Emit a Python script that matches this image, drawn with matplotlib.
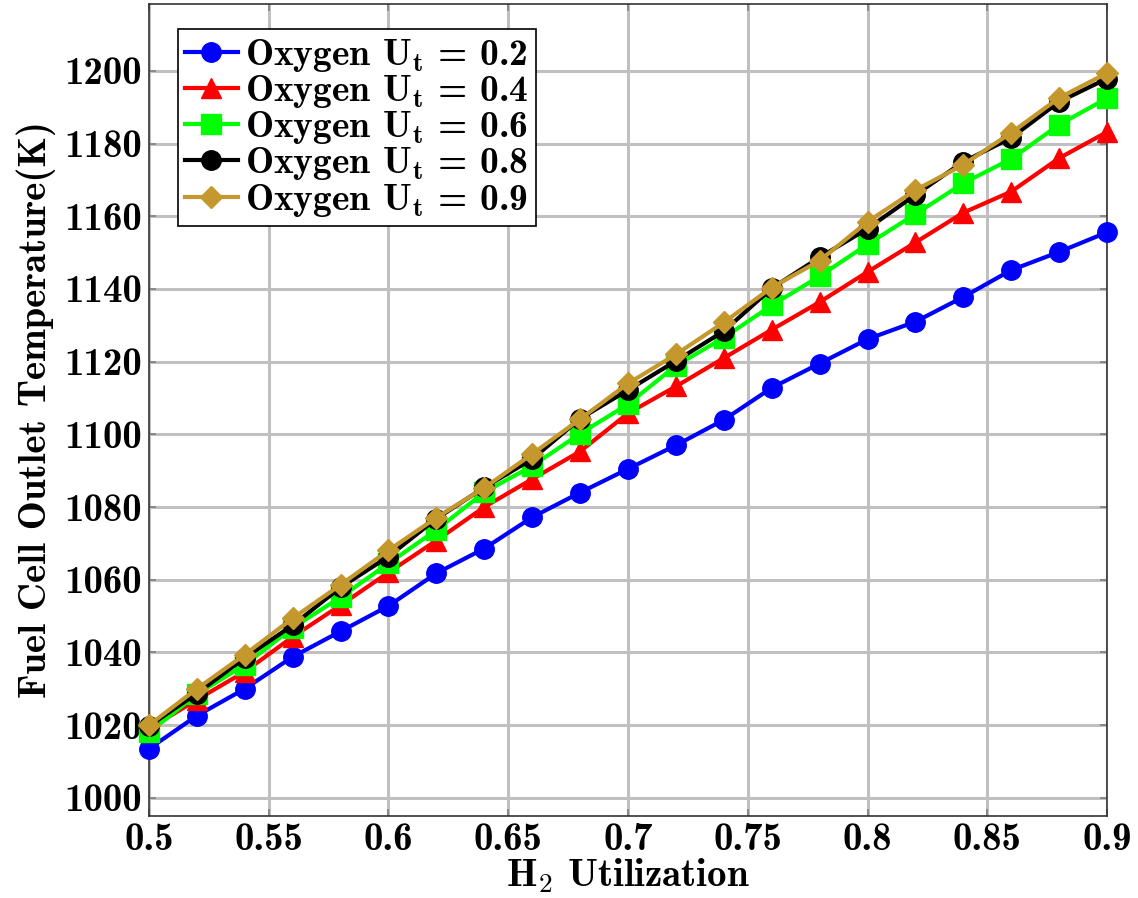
import numpy as np
import matplotlib
matplotlib.use("Agg")
import matplotlib.pyplot as plt

plt.rcParams['font.family'] = 'cmb10'
plt.rcParams['mathtext.fontset'] = 'cm'
plt.rcParams['axes.unicode_minus'] = False

# H2 utilization (x) and fuel cell outlet temperature (K) per oxygen utilization
h2_util = [0.50, 0.52, 0.54, 0.56, 0.58, 0.60, 0.62, 0.64, 0.66, 0.68, 0.70,
           0.72, 0.74, 0.76, 0.78, 0.80, 0.82, 0.84, 0.86, 0.88, 0.90]

temp_ox02 = [1013.5, 1022.6, 1030.0, 1038.8, 1045.8, 1052.8, 1061.8, 1068.6, 1077.2, 1084.0, 1090.5,
             1097.0, 1104.0, 1112.8, 1119.5, 1126.2, 1131.0, 1137.8, 1145.2, 1150.2, 1155.6]
temp_ox04 = [1019.0, 1027.0, 1034.7, 1044.3, 1053.0, 1062.0, 1070.8, 1080.0, 1087.7, 1095.3, 1105.8,
             1113.2, 1121.0, 1128.8, 1136.4, 1144.7, 1152.8, 1161.0, 1166.8, 1176.0, 1183.2]
temp_ox06 = [1018.0, 1028.5, 1036.6, 1046.8, 1055.2, 1064.5, 1073.7, 1084.1, 1091.3, 1100.2, 1108.3,
             1118.9, 1126.6, 1135.5, 1143.5, 1152.3, 1160.6, 1169.1, 1175.8, 1185.2, 1192.5]
temp_ox08 = [1019.8, 1028.7, 1038.5, 1047.5, 1057.9, 1066.4, 1076.8, 1085.4, 1093.2, 1104.3, 1112.2,
             1120.2, 1128.4, 1140.2, 1148.7, 1156.6, 1165.9, 1175.0, 1181.6, 1191.5, 1197.9]
temp_ox09 = [1020.0, 1030.0, 1039.4, 1049.4, 1058.6, 1068.1, 1077.1, 1085.3, 1094.6, 1104.2, 1114.0,
             1122.0, 1130.8, 1140.4, 1147.8, 1158.5, 1167.2, 1174.2, 1183.0, 1192.6, 1199.4]

ox_labels = ['0.2', '0.4', '0.6', '0.8', '0.9']
x_ticks = [0.5, 0.55, 0.6, 0.65, 0.7, 0.75, 0.8, 0.85, 0.9]
y_ticks = [1000, 1020, 1040, 1060, 1080, 1100, 1120, 1140, 1160, 1180, 1200]

series = [temp_ox02, temp_ox04, temp_ox06, temp_ox08, temp_ox09]
colors = ['#0000ff', '#ff0000', '#00ff00', '#000000', '#c4982c']
markers = ['o', '^', 's', 'o', 'D']
msizes = [14, 14, 14, 14, 11]

fig = plt.figure(figsize=(11.38, 8.98), dpi=100)
ax = fig.add_axes([0.1309, 0.0913, 0.8419, 0.9042])

for ys, c, m, ms, lab in zip(series, colors, markers, msizes, ox_labels):
    ax.plot(h2_util, ys, color=c, marker=m, markersize=ms, linewidth=3,
            label=r'Oxygen $\mathbf{U_t}$ = ' + lab, clip_on=False, zorder=3)

ax.set_xlim(0.5, 0.9)
ax.set_ylim(995, 1218.4)
ax.set_xticks(x_ticks)
ax.set_xticklabels([f'{t:g}' for t in x_ticks])
ax.set_yticks(y_ticks)
ax.set_yticklabels([str(t) for t in y_ticks])
ax.grid(True, color='#c0c0c0', linewidth=2.2)
ax.set_axisbelow(True)
ax.tick_params(direction='in', length=5, width=1.2, color='#808080',
               labelsize=28, top=True, right=True, pad=5)
for s in ax.spines.values():
    s.set_linewidth(1.2)
    s.set_color('#333333')

ax.set_xlabel(r'H$_\mathbf{2}$ Utilization', fontsize=28, labelpad=-1)
ax.set_ylabel('Fuel Cell Outlet Temperature(K)', fontsize=28, labelpad=6)

leg = ax.legend(loc='upper left', bbox_to_anchor=(0.03, 0.969), fontsize=27,
                frameon=True, fancybox=False, framealpha=1, edgecolor='black',
                borderpad=0.2, labelspacing=-0.02, handlelength=1.4,
                handletextpad=0.2, borderaxespad=0)
leg.get_frame().set_linewidth(1.2)

fig.savefig('out.png', dpi=100)
